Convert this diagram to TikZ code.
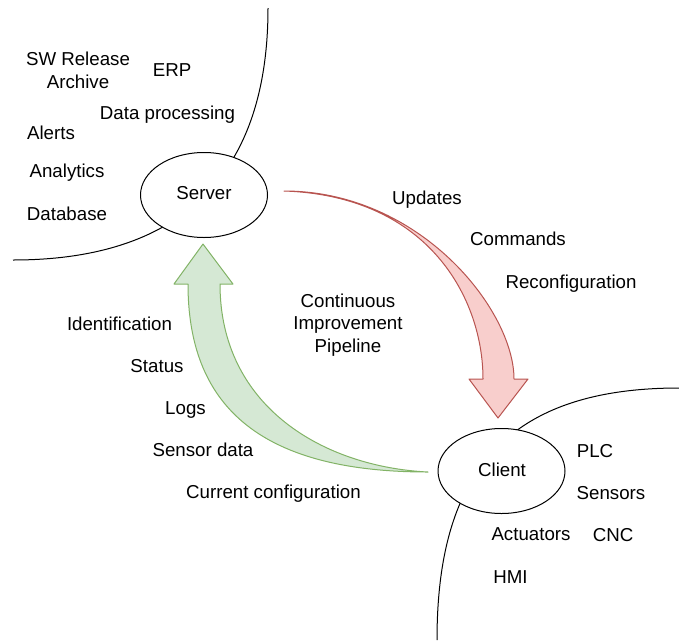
\documentclass[tikz,border=0pt]{standalone}
\usepackage{fontspec}
\setmainfont{Liberation Sans}
\usetikzlibrary{shapes.geometric}
\definecolor{redfill}{HTML}{F8CECC}
\definecolor{redline}{HTML}{B85450}
\definecolor{greenfill}{HTML}{D5E8D4}
\definecolor{greenline}{HTML}{82B366}
\begin{document}
\begin{tikzpicture}[x=1pt,y=-1pt,
  font=\fontsize{18.7}{22.7}\selectfont,
  lbl/.style={anchor=base, inner sep=0pt, align=center},
  oval/.style={ellipse, draw, fill=white, line width=1pt, minimum width=127pt, minimum height=85pt, inner sep=0pt},
  zone/.style={draw, line width=1pt},
  downflow/.style={fill=redfill, draw=redline, line width=1pt, line join=round},
  upflow/.style={fill=greenfill, draw=greenline, line width=1pt, line join=round}]
\useasboundingbox (0,0) rectangle (679,640);

% zone boundaries
\coordinate (zsA) at (268,8);
\coordinate (zsB) at (13,260);
\draw[zone] (zsA) .. controls (268,171) and (185,260) .. (zsB);
\coordinate (zcA) at (679,388);
\coordinate (zcB) at (437,640);
\draw[zone] (zcA) .. controls (500,388) and (437,480) .. (zcB);

% flow arrows
\coordinate (rt) at (284,191);
\coordinate (rtip) at (498,418);
\draw[downflow] (rt) .. controls (420,191) and (514,310) .. (514,379) -- (528,379) -- (rtip) -- (469,379) -- (483,379) .. controls (483,300) and (430,196) .. (rt) -- cycle;
\coordinate (gt) at (428,472);
\coordinate (gtip) at (203,244);
\draw[upflow] (gt) .. controls (255,472) and (188,402) .. (188,284) -- (174,284) -- (gtip) -- (233,284) -- (220,284) .. controls (220,407) and (324,467) .. (gt) -- cycle;

% main nodes
\node[oval] (server) at (204,195) {};
\node[lbl] (serverlbl) at (204,199.3) {Server};
\node[oval] (client) at (501.5,471) {};
\node[lbl] (clientlbl) at (502,476.7) {Client};

% server side
\node[lbl] (swr) at (78,88.3) {SW Release\\Archive};
\node[lbl] (erp) at (172,76.7) {ERP};
\node[lbl] (dproc) at (167.5,119.3) {Data processing};
\node[lbl] (alerts) at (51,139.3) {Alerts};
\node[lbl] (analytics) at (67,177.3) {Analytics};
\node[lbl] (database) at (67,220.7) {Database};

% downstream labels
\node[lbl] (updates) at (427,204) {Updates};
\node[lbl] (commands) at (518,245.7) {Commands};
\node[lbl] (reconf) at (571,288.3) {Reconfiguration};

% center
\node[lbl] (cip) at (348,352.5) {Continuous\\Improvement\\Pipeline};

% upstream labels
\node[lbl] (ident) at (119.5,330) {Identification};
\node[lbl] (status) at (157,372.7) {Status};
\node[lbl] (logs) at (185.5,414.3) {Logs};
\node[lbl] (sdata) at (203,456.7) {Sensor data};
\node[lbl] (curconf) at (273.5,498.3) {Current configuration};

% client side
\node[lbl] (plc) at (595,457) {PLC};
\node[lbl] (sensors) at (611,499) {Sensors};
\node[lbl] (actuators) at (531,540.7) {Actuators};
\node[lbl] (cnc) at (613,541) {CNC};
\node[lbl] (hmi) at (510.5,583) {HMI};
\end{tikzpicture}
\end{document}
